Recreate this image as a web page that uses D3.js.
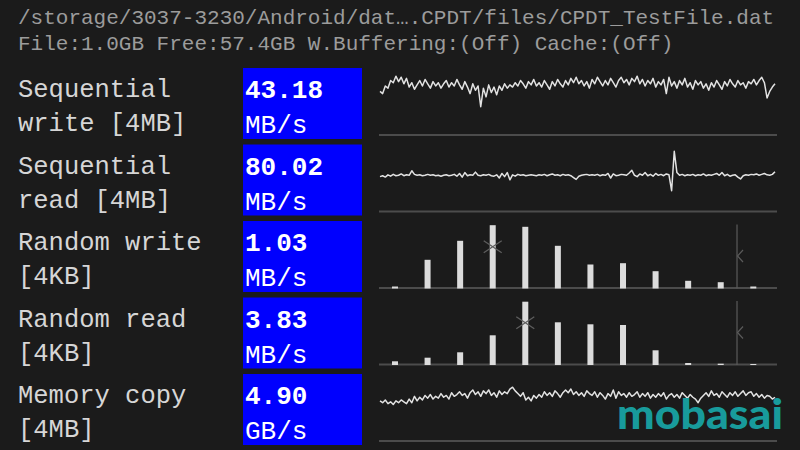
<!DOCTYPE html>
<html><head><meta charset="utf-8">
<script src="https://cdn.jsdelivr.net/npm/d3@7"></script>
<style>
html,body{margin:0;padding:0;background:#1b1b1b;}
svg{display:block;}
</style></head>
<body>
<script>
const headerLines = ["/storage/3037-3230/Android/dat\u2026.CPDT/files/CPDT_TestFile.dat",
  "File:1.0GB Free:57.4GB W.Buffering:(Off) Cache:(Off)"];
const rowLabels = [["Sequential","write [4MB]"],["Sequential","read [4MB]"],["Random write","[4KB]"],["Random read","[4KB]"],["Memory copy","[4MB]"]];
const rowValues = ["43.18","80.02","1.03","3.83","4.90"];
const rowUnits = ["MB/s","MB/s","MB/s","MB/s","GB/s"];
const watermark = "mobasai";

const seqWrite = [40,38,45,43,50,48,54,49,53,47,52,44,48,42,46,50,45,51,47,43,
 49,45,48,43,47,50,44,48,45,51,46,42,49,44,38,47,41,45,26,43,
 35,46,39,44,37,45,41,47,43,46,44,48,45,50,47,43,49,46,51,45,
 48,44,50,46,42,49,45,51,47,44,50,46,52,48,53,47,50,45,49,43,
 51,47,53,49,45,50,46,52,48,44,50,53,48,51,46,52,49,54,47,51,
 45,50,47,52,44,49,46,51,38,53,45,49,43,50,46,52,44,48,42,50,
 46,49,43,47,41,48,44,50,46,42,49,45,51,47,44,50,46,48,43,49,
 47,51,46,50,53,48,34,40,44,47];
const seqRead = [77,79,76,81,78,82,79,80,83,79,81,80,90,82,80,81,79,80,82,80,
 81,79,80,78,80,81,79,80,82,78,84,76,86,79,81,80,87,80,79,81,
 80,82,79,78,81,74,84,77,86,70,81,78,82,80,81,79,80,81,80,79,
 81,80,82,79,81,83,80,81,79,82,80,81,79,75,71,78,80,81,82,80,
 81,80,82,79,81,80,84,74,83,79,80,82,81,80,85,91,80,77,83,80,
 86,79,82,78,84,80,82,79,83,81,46,133,86,80,82,79,81,80,82,79,
 81,80,83,79,81,80,82,84,80,86,79,82,78,80,81,76,72,79,81,80,
 82,81,83,80,82,84,81,80,82,88];
const memCopy = [4.4,4.2,4.5,4.1,4.3,4.0,4.4,4.2,4.5,4.3,4.1,4.6,4.2,4.9,4.4,4.8,4.5,5.0,4.7,5.1,
 4.6,4.9,4.7,5.2,4.8,5.0,4.6,5.3,4.9,5.1,5.4,5.0,5.2,4.7,5.3,5.6,5.1,5.4,4.9,5.5,
 5.2,5.6,5.0,5.3,4.8,5.5,5.1,5.4,5.2,5.7,5.9,5.5,5.2,4.9,5.3,4.5,4.8,4.4,5.0,4.7,
 5.1,4.8,5.4,5.0,5.3,4.9,5.5,5.2,4.8,5.3,5.6,5.3,5.7,5.1,5.4,5.0,5.3,4.9,5.5,5.2,
 5.0,5.4,4.8,5.3,5.0,4.6,5.2,4.9,5.6,4.7,5.4,5.0,5.2,4.8,5.3,4.9,5.1,5.4,4.8,5.2,
 4.9,5.3,4.7,5.1,4.8,5.2,4.9,5.3,4.6,5.0,5.2,4.8,5.1,4.7,5.3,5.0,4.7,5.1,4.8,4.6,
 4.2,4.7,5.0,5.3,4.9,5.5,5.0,5.2,4.8,5.4,5.1,4.8,5.3,5.0,5.4,4.9,5.2,5.5,5.0,5.3,
 5.4,4.9,5.2,4.8,5.1,4.7,5.0,4.9,4.6,4.8];
const buckets = ["b0","b1","b2","b3","b4","b5","b6","b7","b8","b9","b10","b11"];
const randWrite = [2,28.7,47.7,63.3,61.7,42.7,24,25.3,17.3,7.7,6.3,2];
const randRead = [3.7,7.3,12.7,29.7,63.3,42.7,40.7,40,14.7,2,1.3,1];
const randWriteMean = {bucket:"b3", value:41.8};
const randReadMean = {bucket:"b4", value:42.3};
const percentileMark = {after:"b10", value:32.5};

const W = 800, H = 450;
const svg = d3.select("body").append("svg").attr("width", W).attr("height", H);
svg.append("rect").attr("width", W).attr("height", H).attr("fill", "#1b1b1b");

const mono = "'Liberation Mono','DejaVu Sans Mono',monospace";
svg.selectAll("text.hdr").data(headerLines).enter().append("text")
  .attr("x", 18).attr("y", (d,i) => 24 + i*26)
  .attr("font-family", mono).attr("font-size", 21).attr("fill", "#9c9c9c")
  .text(d => d);

const rowTop = d3.scaleLinear().domain([0,4]).range([68, 374]);
const boxH = 71;
const chartX0 = 379, chartX1 = 777;

rowLabels.forEach((lab, r) => {
  const t = rowTop(r);
  const g = svg.append("g");
  g.selectAll("text").data(lab).enter().append("text")
    .attr("x", 18).attr("y", (d,i) => t + 29 + i*34)
    .attr("font-family", mono).attr("font-size", 25.5).attr("fill", "#d6d6d6")
    .text(d => d);
  g.append("rect").attr("x", 243).attr("y", t).attr("width", 119).attr("height", boxH).attr("fill", "#0000fe");
  g.append("text").attr("x", 245).attr("y", t + 30)
    .attr("font-family", mono).attr("font-size", 26).attr("font-weight", "bold").attr("fill", "#ffffff")
    .text(rowValues[r]);
  g.append("text").attr("x", 245).attr("y", t + 65)
    .attr("font-family", mono).attr("font-size", 26).attr("fill", "#ffffff")
    .text(rowUnits[r]);
  // baseline
  g.append("line").attr("x1", chartX0).attr("x2", chartX1)
    .attr("y1", t + 67).attr("y2", t + 67)
    .attr("stroke", "#4c4c4c").attr("stroke-width", 2);
});

function drawLine(r, data, maxV) {
  const t = rowTop(r);
  const x = d3.scaleLinear().domain([0, data.length-1]).range([380, 775]);
  const y = d3.scaleLinear().domain([0, maxV]).range([t + 67, t]);
  svg.append("path").datum(data)
    .attr("d", d3.line().x((d,i) => x(i)).y(d => y(d)))
    .attr("fill", "none").attr("stroke", "#e2e2e2").attr("stroke-width", 1.5)
    .attr("stroke-linejoin", "round");
}
drawLine(0, seqWrite, 61.5);
drawLine(1, seqRead, 148);

function drawBars(r, data, mean) {
  const t = rowTop(r);
  const base = t + 67.5;
  const x = d3.scalePoint().domain(buckets).range([395, 753.3]);
  const y = d3.scaleLinear().domain([0, 64]).range([base, base - 64]);
  const g = svg.append("g");
  // percentile vertical line
  const px = (x(percentileMark.after) + x(buckets[buckets.indexOf(percentileMark.after)+1])) / 2;
  g.append("line").attr("x1", px).attr("x2", px).attr("y1", y(64)).attr("y2", base)
    .attr("stroke", "#5a5a5a").attr("stroke-width", 1.2);
  const cy = y(percentileMark.value);
  g.append("path").attr("d", `M${px+6},${cy-6}L${px+0.5},${cy}L${px+6},${cy+6}`)
    .attr("fill", "none").attr("stroke", "#5a5a5a").attr("stroke-width", 1.2);
  g.selectAll("rect").data(data).enter().append("rect")
    .attr("x", (d,i) => x(buckets[i]) - 3).attr("width", 6)
    .attr("y", d => y(d)).attr("height", d => base - y(d))
    .attr("fill", "#dcdcdc");
  const mx = x(mean.bucket), my = y(mean.value);
  g.append("path").attr("d", `M${mx-9},${my-6}L${mx+9},${my+6}M${mx-9},${my+6}L${mx+9},${my-6}`)
    .attr("stroke", "#5e5e5e").attr("stroke-width", 1.3).attr("fill", "none");
}
drawBars(2, randWrite, randWriteMean);
drawBars(3, randRead, randReadMean);

drawLine(4, memCopy, 7.35);

svg.append("text").attr("x", 617).attr("y", 429)
  .attr("font-family", "Lato, 'Open Sans', sans-serif").attr("font-weight", 900)
  .attr("font-size", 41).attr("fill", "#189b9c")
  .attr("textLength", 166).attr("lengthAdjust", "spacingAndGlyphs")
  .text(watermark);
</script>
</body></html>
